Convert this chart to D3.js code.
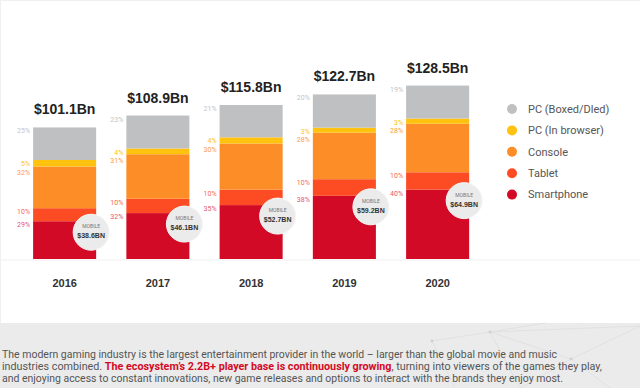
<!DOCTYPE html>
<html>
<head>
<meta charset="utf-8">
<script src="https://cdn.jsdelivr.net/npm/d3@7"></script>
<style>
  body { margin: 0; background: #fff; }
  svg { display: block; }
</style>
</head>
<body>
<svg id="chart"></svg>
<script>
let years = ["2016", "2017", "2018", "2019", "2020"]
let totals = [101.1, 108.9, 115.8, 122.7, 128.5]
let mobile = [38.6, 46.1, 52.7, 59.2, 64.9]

// share of each year's revenue, in %
let pcBoxed = [25, 23, 21, 20, 19]
let pcBrowser = [5, 4, 4, 3, 3]
let consoleShare = [32, 31, 30, 28, 28]
let tablet = [10, 10, 10, 10, 10]
let smartphone = [29, 32, 35, 38, 40]

let segments = ["Smartphone", "Tablet", "Console", "PC (In browser)", "PC (Boxed/Dled)"]
let legendOrder = ["PC (Boxed/Dled)", "PC (In browser)", "Console", "Tablet", "Smartphone"]

let width = 640
let height = 388
let baseline = 259

let fills = {
  "PC (Boxed/Dled)": "#bfc0c2",
  "PC (In browser)": "#ffc20e",
  "Console": "#fd8d26",
  "Tablet": "#fd4b24",
  "Smartphone": "#d30a26"
}
let labelColors = {
  "PC (Boxed/Dled)": "#c4c4c6",
  "PC (In browser)": "#ffc20e",
  "Console": "#fd9a45",
  "Tablet": "#f86a4c",
  "Smartphone": "#e35572"
}

let svg = d3.select("#chart")
            .attr("width", width)
            .attr("height", height)
            .style("font-family", "Roboto, 'Liberation Sans', sans-serif")

let xScale = d3.scaleBand()
               .domain(years)
               .range([18, 484.25])
               .paddingInner(0.324)
               .paddingOuter(0.162)

let yScale = d3.scaleLinear()
               .domain([15, 130])
               .range([baseline, baseline - 1.528 * 115])

let drawBackground = () => {
  svg.append("rect")
     .attr("width", width)
     .attr("height", height)
     .attr("fill", "#fff")
  svg.append("rect")
     .attr("y", 323)
     .attr("width", width)
     .attr("height", height - 323)
     .attr("fill", "#ebebeb")
  svg.append("line")
     .attr("x1", 0).attr("x2", width)
     .attr("y1", 260).attr("y2", 260)
     .attr("stroke", "#efefef")
  svg.append("line")
     .attr("x1", 0.5).attr("x2", 0.5)
     .attr("y1", 0).attr("y2", 323)
     .attr("stroke", "#f0f0f0")
  svg.append("line")
     .attr("x1", 0).attr("x2", width)
     .attr("y1", 0.5).attr("y2", 0.5)
     .attr("stroke", "#f0f0f0")

  // faint network pattern in the grey band
  let nodes = [[490, 332], [571, 359], [432, 341], [640, 326], [520, 388], [610, 388], [455, 388], [545, 323]]
  let links = [[0, 1], [0, 2], [0, 3], [0, 4], [1, 3], [1, 5], [2, 6], [0, 7], [1, 4]]
  svg.append("g")
     .selectAll("line")
     .data(links)
     .enter()
     .append("line")
     .attr("x1", (d) => nodes[d[0]][0])
     .attr("y1", (d) => nodes[d[0]][1])
     .attr("x2", (d) => nodes[d[1]][0])
     .attr("y2", (d) => nodes[d[1]][1])
     .attr("stroke", "#dcdcdc")
     .attr("stroke-width", 0.7)
  svg.append("g")
     .selectAll("circle")
     .data(nodes.slice(0, 3))
     .enter()
     .append("circle")
     .attr("cx", (d) => d[0])
     .attr("cy", (d) => d[1])
     .attr("r", 1.4)
     .attr("fill", "#cfcfcf")
}

let buildRows = () => {
  return years.map((year, i) => {
    let shares = {
      "Smartphone": smartphone[i],
      "Tablet": tablet[i],
      "Console": consoleShare[i],
      "PC (In browser)": pcBrowser[i],
      "PC (Boxed/Dled)": pcBoxed[i]
    }
    let sum = d3.sum(segments, (s) => shares[s])
    let top = yScale(totals[i])
    let barH = baseline - top
    let acc = 0
    let parts = segments.map((s) => {
      let y1 = baseline - barH * acc / sum
      acc += shares[s]
      let y0 = baseline - barH * acc / sum
      return { key: s, year: year, share: shares[s], y0: y0, y1: y1 }
    })
    // push % labels down so they never collide
    let prev = -Infinity
    parts.slice().reverse().forEach((p) => {
      p.labelY = Math.max(p.y0 + 6, prev + 8.5)
      prev = p.labelY
    })
    return { year: year, total: totals[i], mobile: mobile[i], top: top, parts: parts }
  })
}

let drawBars = (rows) => {
  let groups = svg.selectAll(".year")
                  .data(rows)
                  .enter()
                  .append("g")
                  .attr("class", "year")

  groups.selectAll("rect")
        .data((d) => d.parts)
        .enter()
        .append("rect")
        .attr("x", (d) => xScale(d.year))
        .attr("y", (d) => d.y0)
        .attr("width", xScale.bandwidth())
        .attr("height", (d) => d.y1 - d.y0)
        .attr("fill", (d) => fills[d.key])

  groups.selectAll(".pct")
        .data((d) => d.parts)
        .enter()
        .append("text")
        .attr("class", "pct")
        .attr("x", (d) => xScale(d.year) - 3)
        .attr("y", (d) => d.labelY)
        .attr("text-anchor", "end")
        .style("font-size", "7px")
        .attr("fill", (d) => labelColors[d.key])
        .text((d) => d.share + "%")

  groups.append("text")
        .attr("x", (d) => xScale(d.year) + xScale.bandwidth() / 2)
        .attr("y", (d) => d.top - 13)
        .attr("text-anchor", "middle")
        .style("font-family", "'Liberation Sans', Arial, sans-serif")
        .style("font-size", "14px")
        .style("font-weight", "bold")
        .attr("fill", "#222")
        .text((d) => "$" + d.total.toFixed(1) + "Bn")

  // mobile bubbles
  let bubble = groups.append("g")
                     .attr("transform", (d) => {
                       let cx = xScale(d.year) + xScale.bandwidth() - 5
                       let cy = d.parts[0].y0 + 11
                       return "translate(" + cx + "," + cy + ")"
                     })
  bubble.append("circle")
        .attr("r", 18)
        .attr("fill", "#ebebeb")
        .attr("stroke", "#f6f6f6")
  bubble.append("text")
        .attr("y", -4)
        .attr("text-anchor", "middle")
        .style("font-size", "5px")
        .attr("fill", "#777")
        .text("MOBILE")
  bubble.append("text")
        .attr("y", 6)
        .attr("text-anchor", "middle")
        .style("font-family", "'Liberation Sans', Arial, sans-serif")
        .style("font-size", "7px")
        .style("font-weight", "bold")
        .attr("fill", "#333")
        .text((d) => "$" + d.mobile.toFixed(1) + "BN")
}

let drawAxis = () => {
  let xAxis = d3.axisBottom(xScale)
                .tickSize(0)
                .tickPadding(0)
  let g = svg.append("g")
             .attr("transform", "translate(0, 279)")
             .call(xAxis)
  g.select(".domain").remove()
  g.selectAll("text")
   .style("font-family", "'Liberation Sans', Arial, sans-serif")
   .style("font-size", "11px")
   .style("font-weight", "bold")
   .attr("fill", "#333")
}

let drawLegend = () => {
  let item = svg.append("g")
                .selectAll("g")
                .data(legendOrder)
                .enter()
                .append("g")
                .attr("transform", (d, i) => "translate(512," + (109 + i * 21.4) + ")")
  item.append("circle")
      .attr("r", 5)
      .attr("fill", (d) => fills[d])
  item.append("text")
      .attr("x", 16)
      .attr("dy", "0.35em")
      .style("font-size", "11px")
      .attr("fill", "#555")
      .text((d) => d)
}

let drawNote = () => {
  let lines = [
    { y: 358, len: 555, parts: [["The modern gaming industry is the largest entertainment provider in the world \u2013 larger than the global movie and music", false]] },
    { y: 370, len: 600, parts: [["industries combined. ", false], ["The ecosystem\u2019s 2.2B+ player base is continuously growing", true], [", turning into viewers of the games they play,", false]] },
    { y: 382, len: 561, parts: [["and enjoying access to constant innovations, new game releases and options to interact with the brands they enjoy most.", false]] }
  ]
  let t = svg.append("g")
             .selectAll("text")
             .data(lines)
             .enter()
             .append("text")
             .attr("x", 2)
             .attr("y", (d) => d.y)
             .attr("textLength", (d) => d.len)
             .attr("lengthAdjust", "spacingAndGlyphs")
             .style("font-size", "11px")
             .attr("fill", "#555")
  t.selectAll("tspan")
   .data((d) => d.parts)
   .enter()
   .append("tspan")
   .attr("fill", (d) => d[1] ? "#d30a26" : "#555")
   .style("font-weight", (d) => d[1] ? "bold" : "normal")
   .text((d) => d[0])
}

drawBackground()
let rows = buildRows()
drawBars(rows)
drawAxis()
drawLegend()
drawNote()
</script>
</body>
</html>
